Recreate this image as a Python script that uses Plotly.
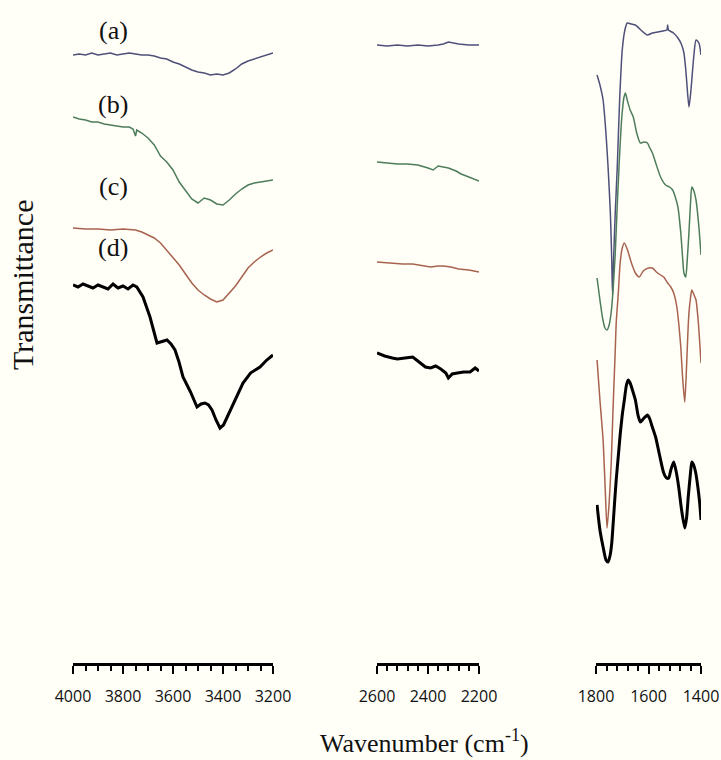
import plotly.graph_objects as go

# ---------------- data (transmittance, arbitrary offset units) ----------------
# Panel 1: 4000-3200 cm-1
a_wn1 = [4000,3975,3950,3925,3900,3875,3850,3825,3800,3775,3750,3725,3700,3675,3650,3625,3600,3575,3550,3525,3500,3475,3450,3425,3400,3375,3350,3325,3300,3275,3250,3225,3200]
a_t1 = [608,609,608,610,608,609,610,608,609,610,609,608,608,607,605,604,601,599,596,593,591,590,588,589,588,590,594,599,602,604,606,608,610]
b_wn1 = [4000,3975,3950,3925,3900,3875,3850,3825,3800,3775,3760,3750,3745,3725,3700,3675,3650,3625,3600,3575,3550,3525,3500,3475,3450,3425,3400,3375,3350,3325,3300,3275,3250,3225,3200]
b_t1 = [546,544,543,541,541,539,538,537,536,536,534,527,533,530,525,518,507,501,493,481,472,464,460,465,463,459,458,463,469,474,478,480,481,482,483]
c_wn1 = [4000,3950,3900,3850,3800,3750,3725,3700,3675,3650,3625,3600,3575,3550,3525,3500,3475,3450,3425,3400,3375,3350,3325,3300,3275,3250,3225,3200]
c_t1 = [435,434,434,433,434,433,431,428,425,420,413,406,398,389,380,373,368,364,361,363,370,377,386,395,401,406,410,413]
d_wn1 = [4000,3980,3960,3940,3920,3900,3880,3860,3840,3820,3800,3780,3760,3745,3720,3692,3664,3640,3624,3608,3592,3576,3560,3530,3504,3488,3472,3458,3444,3428,3412,3398,3385,3372,3345,3320,3290,3252,3225,3200]
d_t1 = [378,376,379,377,375,378,376,374,379,375,377,374,378,376,366,346,320,322,323,319,313,301,286,271,256,259,260,258,253,243,235,238,245,253,268,280,290,296,303,308]

# Panel 2: 2600-2200 cm-1
a_wn2 = [2600,2560,2520,2480,2440,2400,2360,2340,2320,2300,2280,2240,2200]
a_t2 = [618,617,618,617,618,617,618,619,621,620,619,618,618]
b_wn2 = [2600,2560,2520,2480,2440,2400,2380,2360,2340,2320,2290,2270,2240,2200]
b_t2 = [501,500,499,499,498,495,493,497,496,495,492,489,486,482]
c_wn2 = [2600,2550,2500,2460,2420,2390,2360,2340,2310,2280,2240,2200]
c_t2 = [401,400,399,399,397,396,397,397,396,394,393,391]
d_wn2 = [2600,2570,2540,2520,2490,2460,2440,2410,2390,2370,2350,2330,2320,2305,2285,2260,2235,2215,2200]
d_t2 = [310,307,305,304,305,306,302,296,295,297,294,290,285,289,290,291,291,295,292]

# Panel 3: 1800-1400 cm-1
a_wn3 = [1796,1785,1773,1763,1754,1745,1740,1737,1733,1727,1719,1710,1700,1690,1681,1665,1650,1625,1604,1585,1565,1545,1530,1527,1524,1505,1488,1475,1465,1458,1454,1446,1440,1435,1427,1419,1408,1400]
a_t3 = [588,578,563,533,496,448,403,368,403,448,496,563,613,633,640,639,638,632,628,630,631,632,633,638,633,630,625,619,610,593,580,556,568,583,608,623,620,608]
b_wn3 = [1796,1785,1775,1766,1758,1750,1742,1735,1727,1719,1712,1705,1700,1694,1688,1680,1670,1658,1645,1631,1618,1604,1595,1585,1570,1554,1535,1520,1508,1498,1488,1477,1470,1465,1458,1452,1446,1440,1435,1427,1419,1408,1400]
b_t3 = [385,363,345,335,333,338,351,373,408,458,498,533,551,565,570,562,553,546,530,520,521,520,515,510,498,486,478,476,473,466,456,430,405,390,386,405,430,460,476,472,463,436,408]
c_wn3 = [1796,1785,1773,1765,1758,1750,1742,1735,1727,1723,1715,1708,1700,1692,1680,1665,1650,1635,1620,1600,1585,1570,1554,1542,1527,1515,1504,1492,1485,1477,1470,1462,1456,1450,1446,1440,1435,1425,1419,1410,1400]
c_t3 = [303,263,223,175,135,160,200,255,310,340,370,400,415,420,413,400,390,386,392,395,395,391,388,386,380,376,370,356,340,316,285,261,290,330,350,365,373,367,363,340,300]
d_wn3 = [1796,1785,1773,1762,1754,1746,1740,1735,1728,1723,1715,1708,1700,1692,1684,1677,1670,1660,1650,1640,1631,1620,1604,1595,1588,1573,1558,1542,1531,1523,1515,1504,1495,1485,1475,1462,1455,1448,1440,1435,1428,1420,1412,1405,1400]
d_t3 = [158,133,116,103,101,108,120,138,165,183,207,228,248,263,278,283,280,272,263,248,241,244,248,244,238,226,208,190,185,185,193,201,192,176,155,135,145,168,190,201,198,190,176,160,143]

sample_labels = ["(a)", "(b)", "(c)", "(d)"]
label_t = [633, 559, 477, 416]
colors = ["#4f5079", "#4e7d5c", "#a8634f", "#000000"]
widths = [1.5, 1.5, 1.5, 3]

panels = [
    [(a_wn1, a_t1), (b_wn1, b_t1), (c_wn1, c_t1), (d_wn1, d_t1)],
    [(a_wn2, a_t2), (b_wn2, b_t2), (c_wn2, c_t2), (d_wn2, d_t2)],
    [(a_wn3, a_t3), (b_wn3, b_t3), (c_wn3, c_t3), (d_wn3, d_t3)],
]
xaxes = ["x", "x2", "x3"]

fig = go.Figure()
for pi, panel in enumerate(panels):
    for si, (wn, t) in enumerate(panel):
        fig.add_trace(go.Scatter(
            x=wn, y=t, mode="lines", xaxis=xaxes[pi], yaxis="y",
            line=dict(color=colors[si], width=widths[si],
                      shape="spline" if pi == 2 else "linear", smoothing=0.6),
            showlegend=False, hoverinfo="skip"))

W = 721.0
tickfont = dict(family="Open Sans", size=16, color="#111")

def xax(dom, rng, minor_dt):
    return dict(domain=dom, range=rng, anchor="y", showgrid=False, zeroline=False,
                automargin=False,
                showline=True, linecolor="black", linewidth=3, mirror=False,
                ticks="outside", ticklen=8, tickwidth=2, tickcolor="black",
                tickmode="linear", tick0=rng[1], dtick=200, tickfont=tickfont,
                ticklabelstandoff=9,
                minor=dict(ticks="outside", dtick=minor_dt, tick0=rng[1], ticklen=5,
                           tickwidth=2, tickcolor="black", showgrid=False))

fig.update_layout(
    width=721, height=760,
    margin=dict(l=0, r=0, t=0, b=97, pad=0, autoexpand=False),
    paper_bgcolor="#fffef7", plot_bgcolor="#fffef7",
    xaxis=xax([73 / W, 273 / W], [4000, 3200], 50),
    xaxis2=xax([377 / W, 479 / W], [2600, 2200], 40),
    xaxis3=xax([596 / W, 701 / W], [1800, 1400], 40),
    yaxis=dict(domain=[0, 1], range=[0, 663], visible=False, fixedrange=True,
               automargin=False),
)

serif = "Liberation Serif"
for lab, ty in zip(sample_labels, label_t):
    fig.add_annotation(text=lab, x=3840, y=ty, xref="x", yref="y", showarrow=False,
                       font=dict(family=serif, size=26, color="#111"),
                       xanchor="center", yanchor="middle")

fig.add_annotation(text="Transmittance", x=22 / W, y=0.57, xref="paper", yref="paper",
                   showarrow=False, textangle=-90,
                   font=dict(family=serif, size=30, color="#111"),
                   xanchor="center", yanchor="middle")
fig.add_annotation(text="Wavenumber (cm<sup>-1</sup>)", x=424 / W, y=-0.119,
                   xref="paper", yref="paper", showarrow=False,
                   font=dict(family=serif, size=26, color="#111"),
                   xanchor="center", yanchor="middle")

fig.write_html("out.html")
